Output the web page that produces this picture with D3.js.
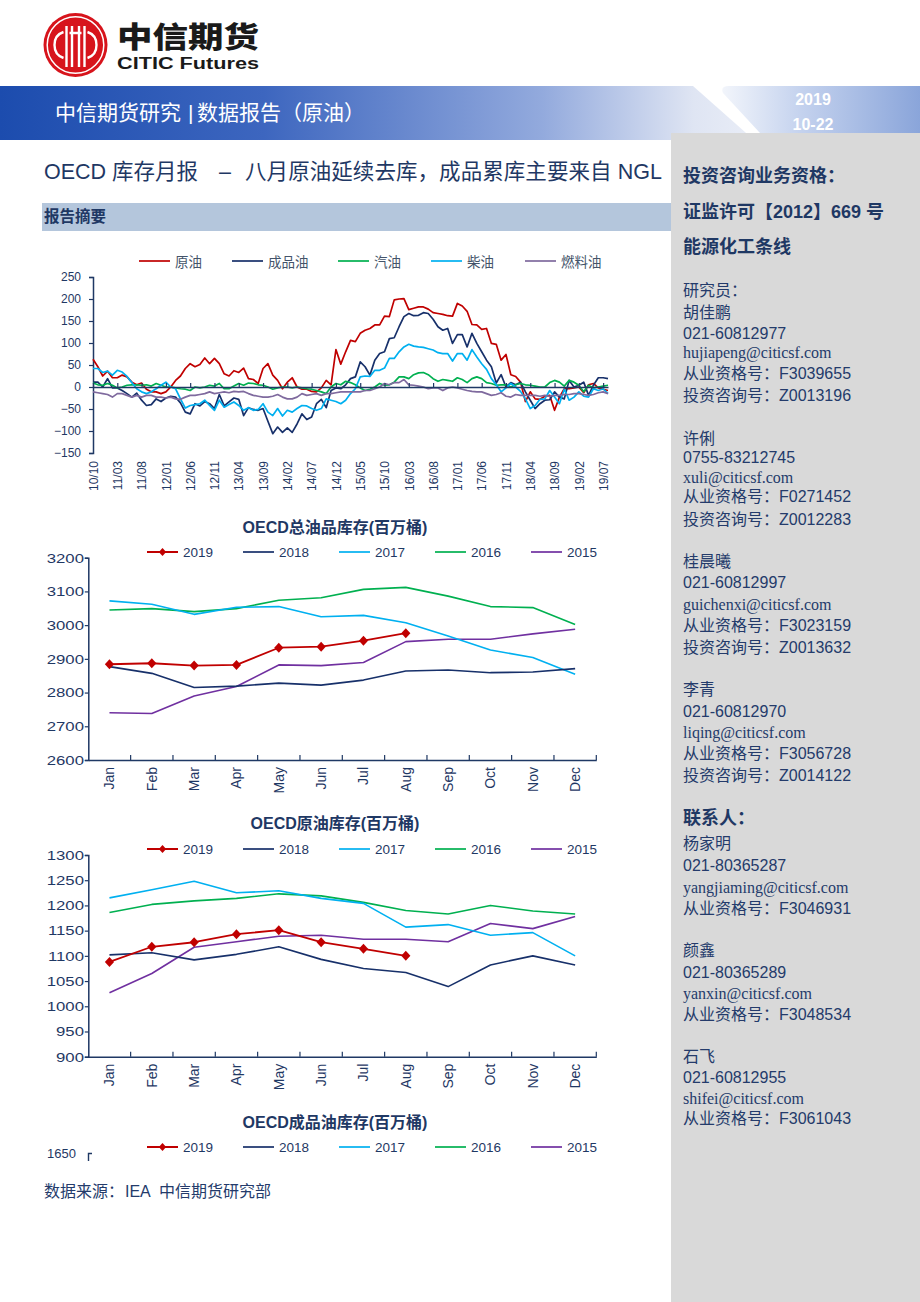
<!DOCTYPE html>
<html><head><meta charset="utf-8">
<script src="https://cdn.jsdelivr.net/npm/d3@7"></script>
<style>
body{margin:0;background:#fff;}
svg{display:block;}
text{font-family:"Liberation Sans",Arial,"Noto Sans CJK SC",sans-serif;}
</style></head><body>
<svg id="page" width="920" height="1302"></svg>
<script>
// ---------------- DATA ----------------
const topTickLabels = ["10/10","11/03","11/08","12/01","12/06","12/11","13/04","13/09","14/02","14/07","14/12","15/05","15/10","16/03","16/08","17/01","17/06","17/11","18/04","18/09","19/02","19/07"];
const topSeriesNames = ["原油","成品油","汽油","柴油","燃料油"];
// monthly deviation series, 2010-10 .. 2019-08
const crude = [63,46,25,36,21,21,27,23,11,5,9,-5,-11,-11,-15,-11,0,15,25,42,53,46,51,66,53,65,53,30,25,37,33,43,19,17,8,42,53,27,15,-4,11,21,0,-5,-5,-10,-11,-2,15,5,85,52,80,106,103,122,129,133,141,141,161,160,198,200,201,176,179,182,182,177,169,167,165,162,161,190,184,172,142,141,131,133,99,97,61,74,28,24,11,-33,-11,-27,-28,-21,-19,-53,-23,-4,-4,-2,0,-13,5,8,-2,-5,-8];
const products = [11,11,0,19,-2,-2,-8,-15,-23,-14,-30,-42,-40,-27,-33,-25,-21,-23,-36,-57,-61,-38,-43,-33,-38,-49,-17,-43,-34,-25,-28,-65,-47,-51,-53,-49,-78,-106,-91,-103,-93,-103,-84,-61,-74,-68,-38,-28,-47,-8,-2,-4,5,19,23,57,46,27,61,76,80,110,112,137,160,167,162,163,169,167,154,137,129,133,99,119,119,91,122,99,80,61,46,9,28,0,10,5,11,-11,-30,-49,-38,-30,-29,-11,-23,-27,15,0,4,11,-19,4,21,21,19];
const gasoline = [9,5,4,8,4,-2,0,4,5,5,4,5,2,8,4,0,0,-2,-4,-5,-8,0,-2,0,4,2,8,-4,-4,2,8,4,9,8,5,4,0,-5,-2,0,0,-2,0,-2,-4,-5,-8,-11,-15,0,8,5,13,10,5,-2,-8,-5,0,8,4,5,11,23,23,19,28,32,33,28,19,13,17,15,13,21,17,10,19,23,19,10,8,4,5,5,0,5,8,5,4,2,0,0,10,15,11,2,15,11,4,-11,4,-2,0,2,4];
const diesel = [42,42,33,36,27,38,34,24,10,-4,-11,-15,-11,-4,4,11,0,-4,-27,-48,-42,-40,-38,-30,-42,-53,-30,-46,-40,-34,-42,-53,-47,-53,-51,-38,-57,-65,-49,-66,-53,-57,-49,-42,-43,-49,-53,-49,-27,-30,-33,-38,-30,-15,-4,23,25,24,38,38,43,65,65,80,91,97,93,91,90,87,84,78,76,76,59,76,76,61,85,68,53,40,19,5,-11,-2,8,0,-10,-27,-49,-42,-28,-27,-8,-23,-38,-5,-30,-23,-11,-21,-23,-4,-8,-4,-15];
const fuelOil = [-11,-13,-15,-17,-23,-15,-15,-19,-23,-19,-23,-19,-19,-23,-23,-25,-23,-27,-28,-23,-19,-19,-17,-15,-11,-15,-13,-11,-13,-10,-11,-10,-15,-19,-21,-23,-23,-21,-17,-23,-27,-27,-23,-15,-19,-17,-15,-19,-15,-15,-13,-11,-11,-11,-11,-11,-8,-8,-4,0,8,5,10,10,17,5,4,2,0,-4,-2,-2,-8,-2,0,-2,-5,-8,-10,-11,-11,-15,-19,-17,-13,-21,-23,-17,-19,-19,-19,-19,-21,-19,-21,-19,-19,-17,-17,-15,-15,-17,-19,-17,-13,-11,-15];
const topYTicks = [-150,-100,-50,0,50,100,150,200,250];

const months = ["Jan","Feb","Mar","Apr","May","Jun","Jul","Aug","Sep","Oct","Nov","Dec"];
const years = ["2019","2018","2017","2016","2015"];
const total2019 = [2884,2887,2880,2882,2933,2936,2954,2976];
const total2018 = [2877,2857,2815,2819,2828,2822,2837,2864,2867,2859,2861,2871];
const total2017 = [3072,3062,3032,3053,3055,3025,3029,3007,2968,2926,2904,2854];
const total2016 = [3045,3049,3040,3049,3074,3081,3106,3112,3086,3055,3052,3002];
const total2015 = [2740,2738,2790,2818,2882,2880,2889,2951,2958,2958,2974,2988];
const totalTicks = [2600,2700,2800,2900,3000,3100,3200];

const crude2019 = [1088,1118,1127,1143,1151,1127,1114,1100];
const crude2018 = [1102,1106,1092,1103,1118,1093,1075,1067,1039,1082,1100,1082];
const crude2017 = [1215,1231,1248,1225,1229,1214,1204,1157,1162,1141,1146,1100];
const crude2016 = [1186,1202,1209,1214,1223,1219,1206,1190,1183,1200,1189,1183];
const crude2015 = [1027,1065,1117,1128,1139,1141,1133,1133,1128,1164,1154,1178];
const crudeTicks = [900,950,1000,1050,1100,1150,1200,1250,1300];

// ---------------- DRAW ----------------
const NAVY = "#1f3864";
const TXT = "#243b6b";
const svg = d3.select("#page");
const defs = svg.append("defs");

function grad(id, stops){
  const g = defs.append("linearGradient").attr("id",id).attr("x1",0).attr("x2",1).attr("y1",0).attr("y2",0);
  stops.forEach(s=>g.append("stop").attr("offset",s[0]).attr("stop-color",s[1]));
}
grad("bannerGrad",[[0,"#1c4cae"],[0.35,"#3d66bf"],[0.72,"#93aadd"],[0.92,"#dfe5f3"],[1,"#e9edf7"]]);
grad("dateGrad",[[0,"#f2f5fb"],[0.4,"#c4d2ee"],[1,"#8aa5da"]]);

// header banner
svg.append("path").attr("d","M0,86 L693,86 L754,140 L0,140 Z").attr("fill","url(#bannerGrad)");
svg.append("path").attr("d","M729,86 L920,86 L920,133 L760,133 L723,93 Q720,86 729,86 Z").attr("fill","url(#dateGrad)");
const bt = svg.append("text").attr("y",112).attr("dominant-baseline","central").attr("fill","#fff").attr("font-size",21);
bt.append("tspan").attr("x",55).text("中信期货研究");
bt.append("tspan").attr("x",188).text("|");
bt.append("tspan").attr("x",197).text("数据报告（原油）");
svg.append("text").attr("x",813).attr("y",99).attr("text-anchor","middle").attr("dominant-baseline","central")
  .attr("fill","#fff").attr("font-weight","bold").attr("font-size",16).text("2019");
svg.append("text").attr("x",813).attr("y",124).attr("text-anchor","middle").attr("dominant-baseline","central")
  .attr("fill","#fff").attr("font-weight","bold").attr("font-size",16).text("10-22");

// sidebar
svg.append("rect").attr("x",671).attr("y",133).attr("width",249).attr("height",1169).attr("fill","#d9d9d9");

// logo
const logo = svg.append("g").attr("transform","translate(75.5,45)");
logo.append("circle").attr("r",32).attr("fill","#d7141c");
logo.append("circle").attr("r",28.3).attr("fill","none").attr("stroke","#fff").attr("stroke-width",1.5);
defs.append("clipPath").attr("id","logoClip").append("circle").attr("r",25.5);
const lg = logo.append("g").attr("clip-path","url(#logoClip)").attr("stroke","#fff").attr("fill","none").attr("stroke-width",2.4);
lg.append("path").attr("d","M-12,-13 Q-21,-10 -21,0 Q-21,10 -12,13");
lg.append("path").attr("d","M12,-13 Q21,-10 21,0 Q21,10 12,13");
[-9,-3.5,3.5,9].forEach(x=>lg.append("line").attr("x1",x).attr("x2",x).attr("y1",-19).attr("y2",22));
lg.append("line").attr("x1",-6).attr("x2",6).attr("y1",-12).attr("y2",-12);
svg.append("text").attr("x",117).attr("y",35).attr("dominant-baseline","central").attr("font-size",29)
  .attr("font-weight","900").attr("fill","#1a1a1a").attr("textLength",142).attr("lengthAdjust","spacingAndGlyphs")
  .style("font-family","'Noto Sans CJK SC',sans-serif").text("中信期货");
svg.append("text").attr("x",117).attr("y",63).attr("dominant-baseline","central").attr("font-size",16)
  .attr("font-weight","bold").attr("fill","#1a1a1a").attr("textLength",142).attr("lengthAdjust","spacingAndGlyphs").text("CITIC Futures");

// title + summary bar
const tt0 = svg.append("text").attr("y",172).attr("dominant-baseline","central").attr("font-size",21.5).attr("fill",NAVY);
tt0.append("tspan").attr("x",44).text("OECD 库存月报");
tt0.append("tspan").attr("x",219).text("–");
tt0.append("tspan").attr("x",245).attr("textLength",417).attr("lengthAdjust","spacing").text("八月原油延续去库，成品累库主要来自 NGL");
svg.append("rect").attr("x",42).attr("y",203).attr("width",629).attr("height",28).attr("fill","#b4c6dc");
svg.append("text").attr("x",44).attr("y",216).attr("dominant-baseline","central").attr("font-size",15.5)
  .attr("font-weight","bold").attr("fill",NAVY).text("报告摘要");

// ---------- top chart ----------
const topG = svg.append("g");
const tx = d3.scaleLinear().domain([0,106]).range([93,608]);
const ty = d3.scaleLinear().domain([-150,250]).range([453,277]);
const topColors = ["#c00000","#17306a","#00b050","#00b0f0","#7f6a9e"];
const topData = [crude,products,gasoline,diesel,fuelOil];

const tyAxis = topG.append("g").attr("transform","translate(93,0)")
  .call(d3.axisLeft(ty).tickValues(topYTicks).tickSize(4).tickPadding(8).tickFormat(d3.format("d")));
tyAxis.select(".domain").attr("stroke",NAVY).attr("stroke-width",1.5);
tyAxis.selectAll(".tick line").attr("stroke",NAVY).attr("stroke-width",1.2);
tyAxis.selectAll("text").attr("fill",NAVY).attr("font-size",12).style("font-family","'Liberation Sans',Arial");

const lineTop = d3.line().x((d,i)=>tx(i)).y(d=>ty(d));
topData.forEach((arr,k)=>{
  topG.append("path").datum(arr).attr("d",lineTop).attr("fill","none")
    .attr("stroke",topColors[k]).attr("stroke-width",1.7).attr("stroke-linejoin","round");
});
const y0 = ty(0);
const txAxis = topG.append("g").attr("transform",`translate(0,${y0})`)
  .call(d3.axisBottom(tx).tickValues(d3.range(0,106,5)).tickFormat(i=>topTickLabels[i/5]).tickSizeInner(-4).tickSizeOuter(0));
txAxis.select(".domain").attr("stroke",NAVY).attr("stroke-width",1.6);
txAxis.selectAll(".tick line").attr("stroke",NAVY).attr("stroke-width",1.2);
txAxis.selectAll("text").attr("x",0).attr("y",0).attr("dy","0.35em").attr("text-anchor","end")
  .attr("transform",`translate(0,${461-y0}) rotate(-90)`)
  .attr("fill",NAVY).attr("font-size",12).style("font-family","'Liberation Sans',Arial");

// top legend
const topLegX = [139,232,338,431,525];
topSeriesNames.forEach((n,k)=>{
  topG.append("line").attr("x1",topLegX[k]).attr("x2",topLegX[k]+31).attr("y1",261).attr("y2",261)
    .attr("stroke",topColors[k]).attr("stroke-width",1.7);
  topG.append("text").attr("x",topLegX[k]+36).attr("y",261).attr("dominant-baseline","central")
    .attr("font-size",13.5).attr("fill","#44546a").style("font-family","'Noto Sans CJK SC',sans-serif").text(n);
});

// ---------- monthly charts ----------
const yrColors = ["#c00000","#17306a","#00b0f0","#00b050","#7030a0"];
const legX = [147,243,339,435,531];
const diamond = "M0,-5 L4.6,0 L0,5 L-4.6,0 Z";

function legend(g, ly){
  years.forEach((yr,k)=>{
    g.append("line").attr("x1",legX[k]).attr("x2",legX[k]+31).attr("y1",ly).attr("y2",ly)
      .attr("stroke",yrColors[k]).attr("stroke-width",k===0?2:1.7);
    if(k===0) g.append("path").attr("d",diamond).attr("transform",`translate(${legX[k]+15.5},${ly}) scale(0.8)`).attr("fill",yrColors[0]);
    g.append("text").attr("x",legX[k]+36).attr("y",ly).attr("dominant-baseline","central")
      .attr("font-size",13.5).attr("fill",NAVY).text(yr);
  });
}
function title(g, t, ty_){
  g.append("text").attr("x",335).attr("y",ty_).attr("text-anchor","middle").attr("dominant-baseline","central")
    .attr("font-size",16).attr("font-weight","bold").attr("fill",NAVY).text(t);
}

function monthChart(cfg){
  const g = svg.append("g");
  title(g, cfg.title, cfg.titleY);
  legend(g, cfg.legendY);
  const x = d3.scaleBand().domain(months).range([88.3,596.3]);
  const y = d3.scaleLinear().domain([cfg.ticks[0], cfg.ticks[cfg.ticks.length-1]]).range([cfg.bottom,cfg.top]);
  const ya = g.append("g").attr("transform","translate(88.3,0)")
    .call(d3.axisLeft(y).tickValues(cfg.ticks).tickSize(3.5).tickPadding(0).tickFormat(d3.format("d")));
  ya.select(".domain").attr("stroke",NAVY).attr("stroke-width",1.5);
  ya.selectAll(".tick line").attr("stroke",NAVY).attr("stroke-width",1.2);
  ya.selectAll("text").attr("fill",NAVY).attr("font-size",13.5).attr("transform","scale(1.24,1)");
  // x axis
  const xa = g.append("g").attr("transform",`translate(0,${cfg.bottom})`)
    .call(d3.axisBottom(x).tickSize(0));
  xa.select(".domain").attr("stroke",NAVY).attr("stroke-width",1.5);
  xa.selectAll("text").attr("x",0).attr("y",0).attr("dy","0.35em").attr("text-anchor","end")
    .attr("transform","translate(0,7) rotate(-90)").attr("fill",NAVY).attr("font-size",14);
  const bounds = d3.range(1,13).map(i=>x.range()[0]+i*x.step());
  g.selectAll(null).data(bounds).join("line").attr("x1",d=>d).attr("x2",d=>d)
    .attr("y1",cfg.bottom).attr("y2",cfg.bottom-5).attr("stroke",NAVY).attr("stroke-width",1.2);
  const line = d3.line().x((d,i)=>x(months[i])+x.bandwidth()/2).y(d=>y(d));
  for(let k=cfg.series.length-1;k>=0;k--){
    g.append("path").datum(cfg.series[k]).attr("d",line).attr("fill","none")
      .attr("stroke",yrColors[k]).attr("stroke-width",k===0?1.8:1.6).attr("stroke-linejoin","round");
  }
  g.selectAll(null).data(cfg.series[0]).join("path").attr("d",diamond)
    .attr("transform",(d,i)=>`translate(${x(months[i])+x.bandwidth()/2},${y(d)})`).attr("fill",yrColors[0]);
}

monthChart({title:"OECD总油品库存(百万桶)", titleY:527, legendY:552, top:557.7, bottom:760,
  ticks: totalTicks, series:[total2019,total2018,total2017,total2016,total2015]});
monthChart({title:"OECD原油库存(百万桶)", titleY:823, legendY:849, top:855, bottom:1056.7,
  ticks: crudeTicks, series:[crude2019,crude2018,crude2017,crude2016,crude2015]});

// partial 4th chart (cut at page bottom)
const g4 = svg.append("g");
title(g4,"OECD成品油库存(百万桶)",1122);
legend(g4,1147);
g4.append("text").attr("x",76).attr("y",1153).attr("text-anchor","end").attr("dominant-baseline","central")
  .attr("font-size",13).attr("fill",NAVY).text("1650");
g4.append("path").attr("d","M88.5,1161 V1153.5 H92").attr("fill","none").attr("stroke",NAVY).attr("stroke-width",1.4);

const src = svg.append("text").attr("y",1191).attr("dominant-baseline","central").attr("font-size",16).attr("fill",TXT);
src.append("tspan").attr("x",44).text("数据来源：");
src.append("tspan").attr("x",125).text("IEA");
src.append("tspan").attr("x",159).text("中信期货研究部");

// ---------- sidebar text ----------
const side = [
  ["投资咨询业务资格：",176,"b"],["证监许可【2012】669 号",212,"b"],["能源化工条线",247,"b"],
  ["研究员：",290],["胡佳鹏",312],["021-60812977",333],["hujiapeng@citicsf.com",352,"s"],["从业资格号：F3039655",373],["投资咨询号：Z0013196",395],
  ["许俐",438],["0755-83212745",457],["xuli@citicsf.com",477,"s"],["从业资格号：F0271452",496],["投资咨询号：Z0012283",519],
  ["桂晨曦",561],["021-60812997",582],["guichenxi@citicsf.com",604,"s"],["从业资格号：F3023159",625],["投资咨询号：Z0013632",647],
  ["李青",689],["021-60812970",711],["liqing@citicsf.com",732,"s"],["从业资格号：F3056728",753],["投资咨询号：Z0014122",775],
  ["联系人：",818,"b"],
  ["杨家明",843],["021-80365287",865],["yangjiaming@citicsf.com",887,"s"],["从业资格号：F3046931",908],
  ["颜鑫",950],["021-80365289",972],["yanxin@citicsf.com",993,"s"],["从业资格号：F3048534",1014],
  ["石飞",1056],["021-60812955",1077],["shifei@citicsf.com",1098,"s"],["从业资格号：F3061043",1118]
];
side.forEach(([t,yy,st])=>{
  const tt = svg.append("text").attr("x",683).attr("y",yy).attr("dominant-baseline","central").text(t);
  if(st==="b") tt.attr("font-size",18).attr("font-weight","bold").attr("fill",NAVY);
  else if(st==="s") tt.attr("font-size",16).attr("fill",TXT).style("font-family","'Liberation Serif','Times New Roman',serif");
  else tt.attr("font-size",16).attr("fill",TXT);
});
</script>
</body></html>
